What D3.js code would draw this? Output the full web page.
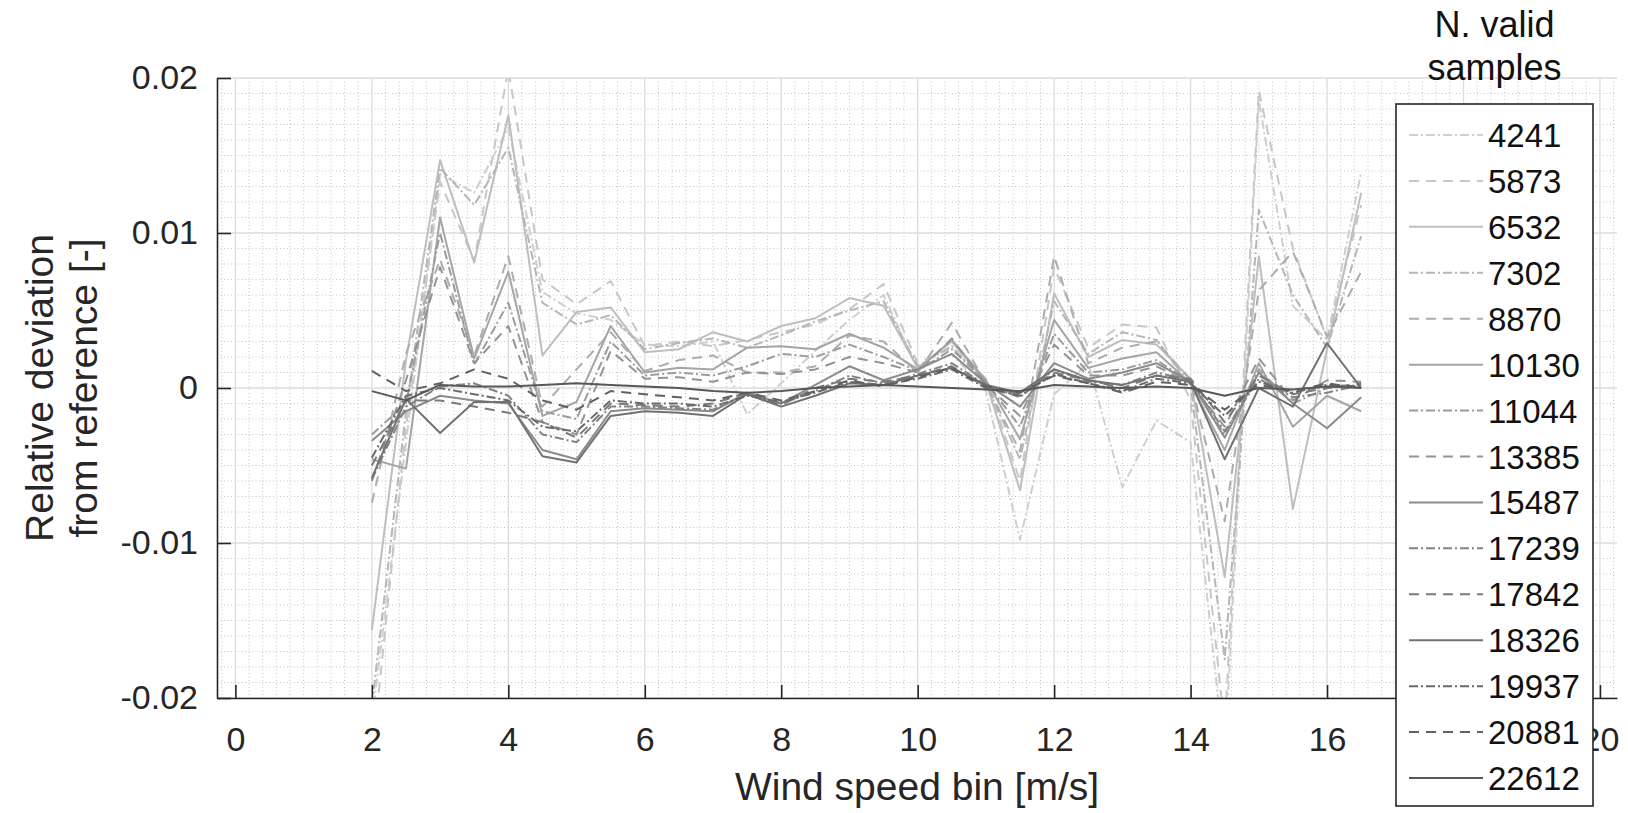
<!DOCTYPE html>
<html>
<head>
<meta charset="utf-8">
<script src="https://cdn.jsdelivr.net/npm/d3@7"></script>
<style>
  body { margin: 0; background: #fff; }
  svg { display: block; }
  text { font-family: "Liberation Sans", Arial, Helvetica, sans-serif; }
</style>
</head>
<body>
<svg id="chart" width="1628" height="813"></svg>
<script>
// Wind speed bins [m/s]
const windBins = [2, 2.5, 3, 3.5, 4, 4.5, 5, 5.5, 6, 6.5, 7, 7.5, 8, 8.5, 9, 9.5,
                  10, 10.5, 11, 11.5, 12, 12.5, 13, 13.5, 14, 14.5, 15, 15.5, 16, 16.5];

// Number of valid samples per series (legend entries)
const sampleCounts = [4241, 5873, 6532, 7302, 8870, 10130, 11044, 13385,
                      15487, 17239, 17842, 18326, 19937, 20881, 22612];

// Line style cycle used for the series
const seriesStyles = ["dashdot", "dashed", "solid", "dashdot", "dashed", "solid", "dashdot", "dashed",
                      "solid", "dashdot", "dashed", "solid", "dashdot", "dashed", "solid"];

// Relative deviation from reference, one array per sample count
const dev4241  = [-0.0215, -0.0035, 0.0138, 0.0126, 0.0168, 0.0062, 0.0048, 0.0044, 0.0028, 0.0027, 0.0030, -0.0017, 0.0003, 0.0024, 0.0044, 0.0060, 0.0012, 0.0022, -0.0002, -0.0098, -0.0004, 0.0016, -0.0064, -0.0021, -0.0035, -0.0240, 0.0186, 0.0053, 0.0031, 0.0139];
const dev5873  = [-0.0240, -0.0025, 0.0133, 0.0082, 0.0206, 0.0070, 0.0054, 0.0069, 0.0027, 0.0030, 0.0027, 0.0031, 0.0036, 0.0041, 0.0051, 0.0067, 0.0016, 0.0026, 0.0006, -0.0060, 0.0078, 0.0026, 0.0041, 0.0039, -0.0008, -0.0220, 0.0192, 0.0090, 0.0032, 0.0118];
const dev6532  = [-0.0156, 0.0018, 0.0147, 0.0081, 0.0176, 0.0021, 0.0049, 0.0052, 0.0023, 0.0025, 0.0036, 0.0030, 0.0040, 0.0045, 0.0058, 0.0053, 0.0013, 0.0030, 0.0004, -0.0066, 0.0061, 0.0020, 0.0031, 0.0028, 0.0006, -0.0122, 0.0085, -0.0078, 0.0025, 0.0126];
const dev7302  = [-0.0205, -0.0015, 0.0142, 0.0118, 0.0155, 0.0055, 0.0041, 0.0047, 0.0025, 0.0029, 0.0032, 0.0026, 0.0034, 0.0043, 0.0050, 0.0056, 0.0014, 0.0027, 0.0003, -0.0046, 0.0056, 0.0022, 0.0036, 0.0031, 0.0002, -0.0175, 0.0115, 0.0060, 0.0026, 0.0098];
const dev8870  = [-0.0074, 0.0022, 0.0083, 0.0021, 0.0085, -0.0012, 0.0012, 0.0036, 0.0011, 0.0018, 0.0021, 0.0010, 0.0010, 0.0014, 0.0034, 0.0030, 0.0010, 0.0042, 0.0003, -0.0041, 0.0085, 0.0016, 0.0026, 0.0030, 0.0005, -0.0086, 0.0063, 0.0088, 0.0033, 0.0075];
const dev10130 = [-0.0046, -0.0052, 0.0110, 0.0019, 0.0075, -0.0018, -0.0009, 0.0040, 0.0010, 0.0013, 0.0012, 0.0026, 0.0027, 0.0025, 0.0035, 0.0026, 0.0012, 0.0031, 0.0005, -0.0033, 0.0044, 0.0013, 0.0019, 0.0023, 0.0003, -0.0040, 0.0016, -0.0025, -0.0005, -0.0015];
const dev11044 = [-0.0030, -0.0010, 0.0100, 0.0015, 0.0055, -0.0015, -0.0020, 0.0030, 0.0008, 0.0010, 0.0008, 0.0014, 0.0022, 0.0020, 0.0028, 0.0020, 0.0011, 0.0025, 0.0004, -0.0025, 0.0035, 0.0010, 0.0012, 0.0018, 0.0004, -0.0030, 0.0012, -0.0010, 0.0000, 0.0002];
const dev13385 = [-0.0060, 0.0005, 0.0078, 0.0016, 0.0040, -0.0022, -0.0030, 0.0024, 0.0006, 0.0007, 0.0004, 0.0010, 0.0009, 0.0012, 0.0020, 0.0016, 0.0010, 0.0032, 0.0002, -0.0018, 0.0028, 0.0008, 0.0008, 0.0014, 0.0003, -0.0025, 0.0019, -0.0008, 0.0005, 0.0004];
const dev15487 = [-0.0034, -0.0015, -0.0005, -0.0008, -0.0010, -0.0040, -0.0046, -0.0015, -0.0013, -0.0014, -0.0015, -0.0003, -0.0010, 0.0002, 0.0014, 0.0005, 0.0012, 0.0022, 0.0003, -0.0012, 0.0016, 0.0006, 0.0010, 0.0016, 0.0004, -0.0032, 0.0010, -0.0010, -0.0026, -0.0006];
const dev17239 = [-0.0059, -0.0012, 0.0001, 0.0003, -0.0005, -0.0030, -0.0035, -0.0012, -0.0012, -0.0013, -0.0014, -0.0004, -0.0010, -0.0002, 0.0008, 0.0003, 0.0009, 0.0016, 0.0002, -0.0006, 0.0012, 0.0004, 0.0002, 0.0010, 0.0005, -0.0028, 0.0006, -0.0006, -0.0003, 0.0002];
const dev17842 = [-0.0050, -0.0008, -0.0008, -0.0012, -0.0016, -0.0022, -0.0032, -0.0010, -0.0011, -0.0012, -0.0010, -0.0003, -0.0011, 0.0000, 0.0006, 0.0004, 0.0008, 0.0014, 0.0001, -0.0004, 0.0010, 0.0005, 0.0000, 0.0008, 0.0006, -0.0022, 0.0008, -0.0004, 0.0000, 0.0003];
const dev18326 = [-0.0058, -0.0007, -0.0029, -0.0009, -0.0009, -0.0044, -0.0048, -0.0018, -0.0015, -0.0016, -0.0018, -0.0004, -0.0012, -0.0005, 0.0003, 0.0002, 0.0008, 0.0013, 0.0002, -0.0003, 0.0012, 0.0005, 0.0002, 0.0008, 0.0004, -0.0046, 0.0000, -0.0012, 0.0029, 0.0000];
const dev19937 = [-0.0045, -0.0005, 0.0000, -0.0004, -0.0008, -0.0025, -0.0028, -0.0008, -0.0010, -0.0010, -0.0012, -0.0005, -0.0009, -0.0003, 0.0004, 0.0002, 0.0006, 0.0012, 0.0000, -0.0005, 0.0009, 0.0003, -0.0002, 0.0006, 0.0003, -0.0018, 0.0004, -0.0003, 0.0002, 0.0001];
const dev20881 = [0.0011, -0.0002, 0.0003, 0.0012, 0.0006, -0.0008, -0.0014, -0.0002, -0.0004, -0.0006, -0.0008, -0.0003, -0.0008, -0.0002, 0.0005, 0.0001, 0.0007, 0.0013, 0.0001, -0.0003, 0.0008, 0.0003, -0.0003, 0.0004, 0.0002, -0.0014, 0.0002, -0.0002, 0.0003, 0.0000];
const dev22612 = [-0.0002, -0.0008, 0.0002, 0.0001, 0.0001, 0.0002, 0.0003, 0.0002, 0.0001, 0.0000, -0.0002, -0.0003, -0.0002, 0.0000, 0.0001, 0.0002, 0.0001, 0.0000, -0.0001, -0.0002, 0.0002, 0.0001, 0.0000, 0.0001, 0.0000, -0.0005, 0.0000, -0.0001, 0.0001, 0.0000];

const deviations = [dev4241, dev5873, dev6532, dev7302, dev8870, dev10130, dev11044, dev13385,
                    dev15487, dev17239, dev17842, dev18326, dev19937, dev20881, dev22612];

// Axis ticks
const xTickValues = [0, 2, 4, 6, 8, 10, 12, 14, 16, 18, 20];
const yTickValues = [-0.02, -0.01, 0, 0.01, 0.02];
const yTickLabels = ["-0.02", "-0.01", "0", "0.01", "0.02"];

// ---- layout ----
const W = 1628, H = 813;
const plot = { left: 217, right: 1617, top: 78, bottom: 698 };
const axisColor = "#262626";

const svg = d3.select("#chart");
svg.append("rect").attr("width", W).attr("height", H).attr("fill", "#fff");

const x = d3.scaleLinear().domain([-0.27, 20.25]).range([plot.left, plot.right]);
const y = d3.scaleLinear().domain([-0.02, 0.02]).range([plot.bottom, plot.top]);

const grey = d3.scaleLinear().domain([0, sampleCounts.length - 1]).range([207, 88]);
const colorOf = i => { const g = Math.round(grey(i)); return `rgb(${g},${g},${g})`; };
const dashOf = s => s === "dashed" ? "10,7" : s === "dashdot" ? "9,3,2,3" : null;

// ---- grid ----
const grid = svg.append("g");
const minorX = d3.range(-1, 102).map(k => k * 0.2)
  .filter(v => Math.abs(v / 2 - Math.round(v / 2)) > 1e-6 && x(v) > plot.left && x(v) < plot.right);
const minorY = d3.range(-19, 20).map(k => k * 0.001).filter(v => Math.abs(v * 100 - Math.round(v * 100)) > 1e-6);

grid.selectAll(".mx").data(minorX).join("line")
  .attr("x1", d => x(d)).attr("x2", d => x(d)).attr("y1", plot.top).attr("y2", plot.bottom)
  .attr("stroke", "#c4c4c4").attr("stroke-width", 1).attr("stroke-dasharray", "1,2.5");
grid.selectAll(".my").data(minorY).join("line")
  .attr("x1", plot.left).attr("x2", plot.right).attr("y1", d => y(d)).attr("y2", d => y(d))
  .attr("stroke", "#c4c4c4").attr("stroke-width", 1).attr("stroke-dasharray", "1,2.5");
grid.selectAll(".gx").data(xTickValues).join("line")
  .attr("x1", d => x(d)).attr("x2", d => x(d)).attr("y1", plot.top).attr("y2", plot.bottom)
  .attr("stroke", "#dcdcdc").attr("stroke-width", 1.3);
grid.selectAll(".gy").data(yTickValues).join("line")
  .attr("x1", plot.left).attr("x2", plot.right).attr("y1", d => y(d)).attr("y2", d => y(d))
  .attr("stroke", "#dcdcdc").attr("stroke-width", 1.3);

// ---- series ----
svg.append("clipPath").attr("id", "plotClip").append("rect")
  .attr("x", plot.left).attr("y", plot.top)
  .attr("width", plot.right - plot.left).attr("height", plot.bottom - plot.top);

const line = d3.line().x((d, i) => x(windBins[i])).y(d => y(d));
svg.append("g").attr("clip-path", "url(#plotClip)")
  .selectAll("path").data(deviations).join("path")
  .attr("d", d => line(d))
  .attr("fill", "none")
  .attr("stroke", (d, i) => colorOf(i))
  .attr("stroke-width", 2)
  .attr("stroke-linejoin", "round")
  .attr("stroke-dasharray", (d, i) => dashOf(seriesStyles[i]));

// ---- axes ----
const xAxis = d3.axisBottom(x).tickValues(xTickValues).tickFormat(d3.format("d"))
  .tickSizeInner(-13).tickSizeOuter(0).tickPadding(29);
const yAxis = d3.axisLeft(y).tickValues(yTickValues).tickFormat((d, i) => yTickLabels[i])
  .tickSizeInner(-14).tickSizeOuter(0).tickPadding(19);

const gx = svg.append("g").attr("transform", `translate(0,${plot.bottom})`).call(xAxis);
const gy = svg.append("g").attr("transform", `translate(${plot.left},0)`).call(yAxis);
[gx, gy].forEach(g => {
  g.select(".domain").attr("stroke", axisColor).attr("stroke-width", 1.6);
  g.selectAll(".tick line").attr("stroke", axisColor).attr("stroke-width", 1.6);
  g.selectAll(".tick text").attr("fill", axisColor).attr("font-size", 34)
    .attr("font-family", "'Liberation Sans', Arial, sans-serif");
});

// axis titles
svg.append("text").attr("x", 917).attr("y", 800).attr("text-anchor", "middle")
  .attr("font-size", 39).attr("fill", axisColor).text("Wind speed bin [m/s]");

const yTitle = svg.append("text")
  .attr("transform", "translate(0,388) rotate(-90)")
  .attr("text-anchor", "middle").attr("font-size", 39).attr("fill", axisColor);
yTitle.append("tspan").attr("x", 0).attr("y", 53).text("Relative deviation");
yTitle.append("tspan").attr("x", 0).attr("y", 97).text("from reference [-]");

// ---- legend ----
const lg = { x: 1396, y: 104, w: 197, h: 702, row0: 135, step: 45.93 };
svg.append("text").attr("x", lg.x + lg.w / 2).attr("y", 37).attr("text-anchor", "middle")
  .attr("font-size", 36).attr("fill", "#111").text("N. valid");
svg.append("text").attr("x", lg.x + lg.w / 2).attr("y", 80).attr("text-anchor", "middle")
  .attr("font-size", 36).attr("fill", "#111").text("samples");

const legend = svg.append("g");
legend.append("rect").attr("x", lg.x).attr("y", lg.y).attr("width", lg.w).attr("height", lg.h)
  .attr("fill", "#fff").attr("stroke", axisColor).attr("stroke-width", 1.6);

const items = legend.selectAll(".item").data(sampleCounts).join("g")
  .attr("transform", (d, i) => `translate(0,${lg.row0 + i * lg.step})`);
items.append("line").attr("x1", 1409).attr("x2", 1483).attr("y1", 0).attr("y2", 0)
  .attr("stroke", (d, i) => colorOf(i)).attr("stroke-width", 2)
  .attr("stroke-dasharray", (d, i) => dashOf(seriesStyles[i]));
items.append("text").attr("x", 1488).attr("y", 12).attr("font-size", 33).attr("fill", "#111")
  .text(d => d);
</script>
</body>
</html>
